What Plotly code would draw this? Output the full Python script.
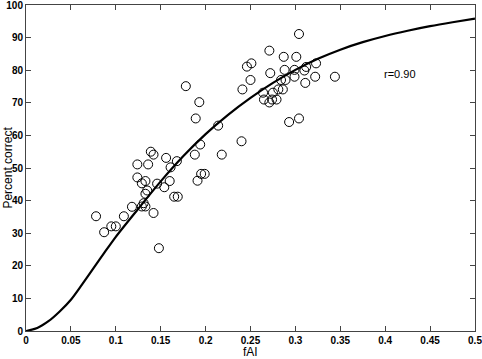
import plotly.graph_objects as go

# Scatter data (fAI, percent correct)
fai = [0.078, 0.087, 0.095, 0.100, 0.109, 0.118, 0.129, 0.133, 0.131, 0.142,
       0.148, 0.124, 0.136, 0.124, 0.129, 0.133, 0.135, 0.133, 0.146, 0.154,
       0.160, 0.165, 0.169, 0.139, 0.142, 0.156, 0.161, 0.168, 0.188, 0.194,
       0.218, 0.240, 0.195, 0.199, 0.191, 0.178, 0.193, 0.189, 0.214, 0.241,
       0.246, 0.251, 0.250, 0.271, 0.272, 0.264, 0.275, 0.281, 0.286, 0.265,
       0.271, 0.274, 0.279, 0.284, 0.289, 0.287, 0.301, 0.288, 0.299, 0.299,
       0.310, 0.312, 0.323, 0.322, 0.344, 0.311, 0.304, 0.293, 0.304]
pct = [35.2, 30.3, 32.1, 32.1, 35.2, 38.1, 38.2, 38.2, 39.2, 36.2,
       25.4, 51.1, 51.1, 47.1, 45.3, 46.0, 43.1, 42.1, 45.2, 44.1,
       46.0, 41.2, 41.2, 55.0, 54.1, 53.1, 50.2, 52.1, 54.1, 57.2,
       54.1, 58.2, 48.2, 48.2, 46.1, 75.1, 70.2, 65.2, 63.0, 74.1,
       81.1, 82.1, 77.0, 86.0, 79.1, 73.1, 73.1, 74.1, 74.1, 71.0,
       70.1, 71.0, 71.0, 77.0, 77.0, 84.1, 84.1, 80.1, 80.1, 78.0,
       79.9, 81.0, 82.1, 78.0, 78.0, 76.1, 91.1, 64.1, 65.2]

# Fitted curve
curve_x = [0, 0.0125, 0.025, 0.0375, 0.05, 0.0625, 0.075, 0.0875, 0.1, 0.125,
           0.15, 0.175, 0.2, 0.225, 0.25, 0.275, 0.3, 0.325, 0.35, 0.375,
           0.4, 0.425, 0.45, 0.475, 0.5]
curve_y = [0, 0.9, 3.0, 6.0, 9.6, 14.3, 19.2, 24.1, 28.9, 37.5,
           45.9, 53.6, 60.4, 66.3, 71.5, 76.1, 80.1, 83.5, 86.3, 88.6,
           90.5, 92.1, 93.5, 94.7, 95.8]

x_ticks = [0, 0.05, 0.1, 0.15, 0.2, 0.25, 0.3, 0.35, 0.4, 0.45, 0.5]
x_tick_text = ["0", "0.05", "0.1", "0.15", "0.2", "0.25", "0.3", "0.35", "0.4", "0.45", "0.5"]
y_ticks = [0, 10, 20, 30, 40, 50, 60, 70, 80, 90, 100]

FONT = "Liberation Sans, Arial"

fig = go.Figure()
fig.add_trace(go.Scatter(x=curve_x, y=curve_y, mode="lines",
                         line=dict(color="black", width=2.2, shape="spline", smoothing=0.8),
                         showlegend=False, hoverinfo="skip", cliponaxis=False))
fig.add_trace(go.Scatter(x=fai, y=pct, mode="markers",
                         marker=dict(symbol="circle-open", size=9, color="black",
                                     line=dict(width=1, color="black")),
                         showlegend=False))

fig.add_annotation(x=0.417, y=78.7, text="r=0.90", showarrow=False,
                   font=dict(family=FONT, size=11, color="black"))
# axis titles
fig.add_annotation(x=0.5, xref="paper", y=-0.063, yref="paper", text="fAI",
                   showarrow=False, xanchor="center", yanchor="middle",
                   font=dict(family=FONT, size=12, color="black"))
fig.add_annotation(x=-0.041, xref="paper", y=0.5, yref="paper", text="Percent correct",
                   showarrow=False, textangle=-90, xanchor="center", yanchor="middle",
                   font=dict(family=FONT, size=12, color="black"))

axis_common = dict(showline=True, linecolor="#444", linewidth=1, mirror="ticks",
                   ticks="inside", ticklen=5, tickcolor="#444", showgrid=False,
                   zeroline=False, automargin=False, ticklabeloverflow="allow",
                   tickfont=dict(family=FONT, size=10, color="black", weight="bold"))

fig.update_xaxes(range=[0, 0.5], tickvals=x_ticks, ticktext=x_tick_text, **axis_common)
fig.update_yaxes(range=[0, 100], tickvals=y_ticks, **axis_common)

fig.update_layout(width=482, height=359,
                  margin=dict(l=26, r=7, t=5, b=28),
                  plot_bgcolor="white", paper_bgcolor="white")

fig.write_html("out.html", config={"displayModeBar": False},
               post_script="document.body.style.margin='0';document.body.style.overflow='hidden';")
